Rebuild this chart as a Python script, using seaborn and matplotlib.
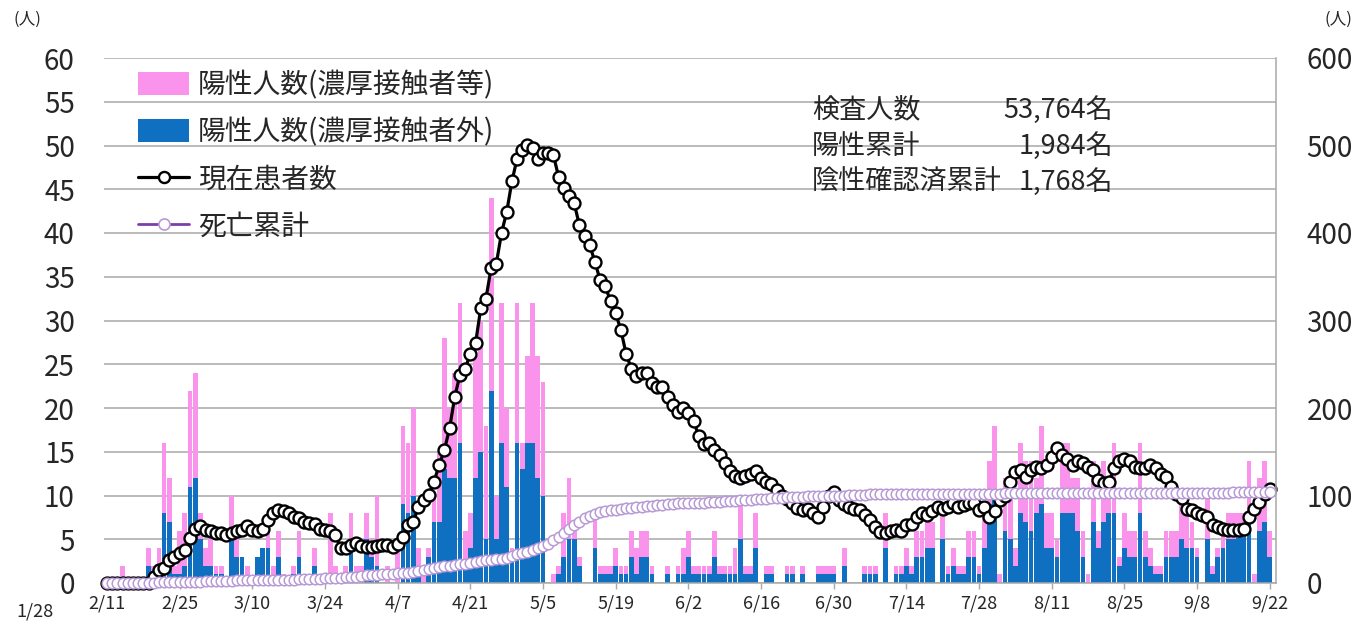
import numpy as np
import pandas as pd
import matplotlib
matplotlib.use("Agg")
import matplotlib.pyplot as plt
import seaborn as sns
from matplotlib.patches import Patch
from matplotlib.lines import Line2D

# ---------------- data ----------------
dates = pd.date_range("2020-02-11", "2020-09-22", freq="D")
tick_labels = ["2/11", "2/25", "3/10", "3/24", "4/7", "4/21", "5/5", "5/19", "6/2",
               "6/16", "6/30", "7/14", "7/28", "8/11", "8/25", "9/8", "9/22"]

# 陽性人数（濃厚接触者外） daily
pos_non_contact = [
    0, 0, 0, 0, 0, 0, 0, 0, 2, 0,
    1, 8, 7, 1, 1, 2, 11, 12, 5, 2,
    2, 1, 1, 0, 5, 3, 3, 0, 0, 3,
    4, 4, 0, 3, 0, 0, 1, 3, 0, 0,
    2, 0, 0, 1, 1, 0, 1, 4, 1, 0,
    5, 3, 2, 0, 0, 0, 0, 9, 8, 10,
    2, 0, 3, 7, 7, 13, 12, 12, 16, 2,
    4, 12, 15, 5, 22, 5, 16, 11, 3, 16,
    13, 16, 16, 12, 10, 0, 0, 1, 3, 5,
    5, 2, 0, 0, 4, 1, 1, 1, 2, 1,
    1, 3, 1, 3, 3, 1, 0, 0, 1, 0,
    1, 1, 3, 1, 1, 1, 1, 3, 1, 1,
    1, 1, 5, 1, 1, 4, 0, 1, 1, 0,
    0, 1, 1, 0, 1, 0, 0, 1, 1, 1,
    1, 0, 2, 0, 0, 0, 1, 1, 1, 0,
    4, 0, 1, 1, 2, 1, 3, 3, 4, 4,
    0, 5, 1, 2, 1, 1, 3, 3, 1, 4,
    9, 10, 0, 6, 5, 2, 8, 7, 6, 8,
    9, 4, 4, 3, 8, 8, 8, 6, 3, 0,
    7, 4, 7, 8, 8, 2, 4, 3, 3, 8,
    3, 2, 1, 1, 3, 3, 3, 5, 4, 4,
    3, 0, 5, 1, 3, 4, 5, 5, 6, 6,
    7, 0, 6, 7, 3,
]

# 陽性人数（濃厚接触者等） daily
pos_contact = [
    0, 0, 0, 2, 0, 0, 0, 0, 2, 2,
    3, 8, 5, 1, 5, 6, 11, 12, 3, 2,
    4, 1, 1, 0, 5, 2, 0, 2, 0, 0,
    0, 3, 2, 3, 1, 0, 1, 3, 1, 0,
    2, 0, 0, 7, 1, 0, 1, 4, 1, 2,
    3, 2, 8, 0, 2, 0, 5, 9, 8, 10,
    2, 2, 1, 3, 8, 15, 8, 12, 16, 4,
    4, 14, 15, 13, 22, 5, 16, 9, 1, 16,
    3, 10, 16, 14, 13, 0, 1, 1, 5, 7,
    2, 1, 0, 0, 4, 1, 1, 1, 2, 1,
    1, 3, 3, 3, 3, 1, 0, 0, 1, 0,
    1, 3, 3, 1, 1, 1, 1, 3, 1, 1,
    1, 3, 5, 1, 1, 4, 0, 1, 1, 0,
    0, 1, 1, 0, 1, 0, 0, 1, 1, 1,
    1, 0, 2, 0, 0, 0, 1, 1, 1, 0,
    4, 0, 1, 1, 2, 1, 3, 3, 3, 3,
    0, 3, 1, 2, 1, 1, 3, 3, 1, 4,
    5, 8, 1, 6, 7, 2, 8, 7, 8, 4,
    9, 4, 4, 2, 8, 8, 4, 6, 3, 1,
    7, 2, 7, 2, 8, 1, 4, 3, 3, 8,
    3, 2, 1, 1, 3, 3, 3, 5, 4, 3,
    1, 0, 5, 1, 1, 2, 3, 3, 2, 2,
    7, 1, 6, 7, 3,
]

# 現在患者数 (right axis)
current_patients = [
    0, 0, 0, 0, 0, 0, 0, 0, 0,
    7, 15, 17, 26, 30, 34, 38, 51, 62, 65, 61, 59, 57, 57, 55, 57, 59,
    61, 65, 61, 59, 62, 72, 80, 84, 82, 80, 76, 74, 70, 69, 67, 62, 61, 59, 55, 40, 40, 44, 46, 42, 41,
    41, 42, 43, 43, 41, 45,
    53, 66, 70, 87, 95, 101, 116, 135, 152, 177, 213, 238, 245, 262, 274, 314, 325, 360, 365, 400,
    424, 459, 485, 495, 501, 497, 485, 491, 491, 489, 464, 451, 442, 434, 409, 396, 386, 367, 346, 339,
    322, 308, 289, 262, 245,
    237, 240, 240, 229, 224, 224, 213, 204, 196, 200, 194, 185, 168, 159, 160, 152, 146, 137, 128, 122,
    120, 122, 125, 128, 120, 116,
    113, 106, 100, 96, 91, 86, 83, 85, 80, 76, 87, 100, 104, 95, 90, 87, 85, 83, 78, 72, 64, 58, 57, 59,
    61, 60, 66,
    68, 76, 80, 78, 82, 87, 85, 87, 91, 87, 89, 91, 91, 83, 87, 76, 82, 95, 99, 116, 127, 129, 121, 129, 133,
    131, 135, 144, 154, 146, 142, 135, 139, 137, 133, 129, 118, 114, 116, 131, 139, 142, 139, 133, 131,
    131, 135, 131,
    125, 121, 110, 102, 97, 85, 83, 80, 78, 76, 66, 64, 62, 61, 61, 61, 62, 76, 85, 93, 102, 108,
]

# 死亡累計 (right axis)
deaths_cum = [
    0, 0, 0, 0, 0, 0, 0, 0, 0, 0,
    1, 1, 1, 1, 1, 1, 1, 1, 1, 2,
    2, 2, 2, 2, 2, 3, 3, 3, 3, 3,
    3, 3, 4, 4, 4, 4, 4, 5, 5, 5,
    5, 5, 6, 6, 6, 6, 7, 7, 7, 8,
    9, 9, 9, 10, 10, 10, 11, 11, 12, 13,
    14, 15, 16, 17, 18, 19, 20, 21, 22, 22,
    23, 24, 25, 26, 26, 27, 28, 29, 31, 33,
    34, 36, 38, 40, 42, 45, 49, 53, 57, 62,
    66, 70, 74, 77, 79, 81, 82, 83, 84, 85,
    86, 86, 87, 87, 88, 88, 89, 89, 90, 90,
    91, 91, 91, 92, 92, 92, 93, 93, 93, 94,
    94, 94, 95, 95, 95, 96, 96, 96, 97, 97,
    97, 98, 98, 98, 98, 99, 99, 99, 99, 100,
    100, 100, 100, 101, 101, 101, 101, 102, 102, 102,
    102, 102, 102, 102, 102, 102, 102, 102, 102, 102,
    102, 102, 102, 102, 102, 102, 102, 102, 102, 102,
    102, 102, 102, 103, 103, 103, 103, 103, 103, 103,
    103, 103, 103, 103, 103, 103, 103, 103, 103, 103,
    103, 103, 103, 103, 103, 103, 103, 103, 103, 103,
    103, 103, 103, 103, 103, 103, 103, 103, 103, 103,
    103, 103, 103, 103, 103, 103, 103, 104, 104, 104,
    104, 104, 104, 104, 104,
]

stats_labels = ["検査人数", "陽性累計", "陰性確認済累計"]
stats_values = ["53,764名", "1,984名", "1,768名"]
legend_labels = ["陽性人数(濃厚接触者等)", "陽性人数(濃厚接触者外)", "現在患者数", "死亡累計"]

# ---------------- style ----------------
PINK = "#F993EC"
BLUE = "#0F6FC0"
PURPLE = "#7A3FA8"
PURPLE_EDGE = "#B79AD6"
GRID = "#A8A8A8"

sns.set_theme(style="white")
plt.rcParams['font.family'] = ['Noto Sans CJK JP', 'DejaVu Sans']

W, H = 1369, 630
fig = plt.figure(figsize=(W / 100, H / 100), dpi=100)
L, R, B, T = 104, 1276, 583, 58
ax = fig.add_axes([L / W, 1 - B / H, (R - L) / W, (B - T) / H])

n = len(dates)
df = pd.DataFrame({
    "day": np.arange(n),
    "blue": pos_non_contact,
    "pink": pos_contact,
    "current": current_patients,
    "deaths": deaths_cum,
})
df["total"] = df["blue"] + df["pink"]

sns.barplot(data=df, x="day", y="total", color=PINK, saturation=1, width=0.92,
            errorbar=None, native_scale=True, ax=ax, linewidth=0)
sns.barplot(data=df, x="day", y="blue", color=BLUE, saturation=1, width=0.92,
            errorbar=None, native_scale=True, ax=ax, linewidth=0)

ax.set_ylim(0, 60)
ax.set_yticks(np.arange(0, 61, 5))
ax.yaxis.grid(True, color=GRID, lw=1.1)
ax.xaxis.grid(False)
ax.set_axisbelow(True)

x0 = -0.58
x1 = 225.2
ax.set_xlim(x0, x1)

ax2 = ax.twinx()
sns.lineplot(data=df, x="day", y="current", color="black", lw=2.3, marker="o",
             markersize=8.6, markerfacecolor="white", markeredgecolor="black",
             markeredgewidth=1.7, ax=ax2, legend=False, clip_on=False)
sns.lineplot(data=df, x="day", y="deaths", color=PURPLE, lw=1.5, marker="o",
             markersize=7.6, markerfacecolor="white", markeredgecolor=PURPLE_EDGE,
             markeredgewidth=1.1, ax=ax2, legend=False, clip_on=False)
ax2.set_ylim(0, 600)
ax2.set_yticks(np.arange(0, 601, 100))
ax2.set_xlim(x0, x1)
ax2.grid(False)

# axes decoration
ax.set_xticks(np.arange(0, n, 14))
ax.set_xticklabels(tick_labels)
ax.set_xlabel("")
ax.set_ylabel("")
ax2.set_xlabel("")
ax2.set_ylabel("")
for a in (ax, ax2):
    for s in ("top", "left"):
        a.spines[s].set_visible(False)
ax.spines["right"].set_visible(False)
ax2.spines["bottom"].set_visible(False)
ax.spines["bottom"].set_color(GRID)
ax.spines["bottom"].set_linewidth(1.1)
ax2.spines["right"].set_color(GRID)
ax2.spines["right"].set_linewidth(1.1)

ax.tick_params(axis="x", length=4, width=1, color=GRID, pad=4, labelsize=13, bottom=True)
ax.tick_params(axis="y", length=0, pad=21, labelsize=20, left=True)
ax2.tick_params(axis="y", length=0, pad=22, labelsize=20, right=True)

# legend
handles = [
    Patch(facecolor=PINK, edgecolor="none"),
    Patch(facecolor=BLUE, edgecolor="none"),
    Line2D([], [], color="black", lw=2.3, marker="o", markersize=8,
           markerfacecolor="white", markeredgecolor="black", markeredgewidth=1.7),
    Line2D([], [], color=PURPLE, lw=2.0, marker="o", markersize=8,
           markerfacecolor="white", markeredgecolor=PURPLE_EDGE, markeredgewidth=1.2),
]
leg = ax2.legend(handles, legend_labels, loc="upper left",
                 bbox_to_anchor=((138 - L) / (R - L), (B - 70) / (B - T)),
                 frameon=False, fontsize=20, handlelength=1.85, handleheight=0.9,
                 labelspacing=0.62, handletextpad=0.3, borderaxespad=0, borderpad=0)

# stats text
ys = [110, 146, 182]
for lab, val, y in zip(stats_labels, stats_values, ys):
    fig.text(812 / W, 1 - y / H, lab, ha="left", va="center", fontsize=19.5)
    fig.text(1113 / W, 1 - y / H, val, ha="right", va="center", fontsize=19.5)

# unit labels and stray date label
fig.text(27 / W, 1 - 19 / H, "(人)", ha="center", va="center", fontsize=12)
fig.text(1338 / W, 1 - 19 / H, "(人)", ha="center", va="center", fontsize=12)
fig.text(35 / W, 1 - 612 / H, "1/28", ha="center", va="center", fontsize=13)

fig.savefig("out.png", dpi=100, facecolor="white")
